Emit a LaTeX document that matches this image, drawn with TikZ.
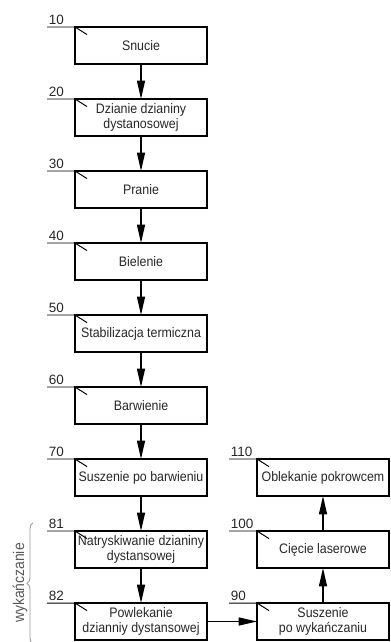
\documentclass[tikz,border=0pt]{standalone}
\usepackage{fontspec}
\setmainfont[FakeStretch=0.9]{Liberation Sans}
\newfontfamily\numfont{Liberation Sans}
\usetikzlibrary{arrows.meta,positioning,decorations.pathreplacing}

\tikzset{
  stepbox/.style={draw, line width=1.1pt, minimum width=3.3cm, minimum height=0.925cm,
    inner sep=0pt, outer sep=0pt, align=center, text=black!85},
  flow/.style={-{Triangle[length=4.6mm,width=2mm]}, line width=1pt},
  leader/.style={line width=0.7pt},
  refno/.style={above right, inner sep=1pt, text=black!85,
    font=\numfont\fontsize{9.6pt}{11pt}\selectfont},
}

\begin{document}
\begin{tikzpicture}[font=\fontsize{9.8pt}{11pt}\selectfont, node distance=0.875cm and 1.25cm]
  \useasboundingbox (0,0) rectangle (9.75,-16.05);

  % main line
  \node[stepbox, anchor=north west] (s10) at (1.875,-0.675) {Snucie};
  \node[stepbox, below=of s10] (s20) {Dzianie dzianiny\\dystanosowej};
  \node[stepbox, below=of s20] (s30) {Pranie};
  \node[stepbox, below=of s30] (s40) {Bielenie};
  \node[stepbox, below=of s40] (s50) {Stabilizacja termiczna};
  \node[stepbox, below=of s50] (s60) {Barwienie};
  \node[stepbox, below=of s60] (s70) {Suszenie po barwieniu};
  \node[stepbox, below=of s70] (s81) {Natryskiwanie dzianiny\\dystansowej};
  \node[stepbox, below=of s81] (s82) {Powlekanie\\dzianniy dystansowej};

  % second column, going up
  \node[stepbox, right=of s82] (s90) {Suszenie\\po wykańczaniu};
  \node[stepbox, above=of s90] (s100) {Cięcie laserowe};
  \node[stepbox, above=of s100] (s110) {Oblekanie pokrowcem};

  \draw[flow] (s10) -- (s20);
  \draw[flow] (s20) -- (s30);
  \draw[flow] (s30) -- (s40);
  \draw[flow] (s40) -- (s50);
  \draw[flow] (s50) -- (s60);
  \draw[flow] (s60) -- (s70);
  \draw[flow] (s70) -- (s81);
  \draw[flow] (s81) -- (s82);
  \draw[flow] (s82) -- (s90);
  \draw[flow] (s90) -- (s100);
  \draw[flow] (s100) -- (s110);

  % reference numbers
  \foreach \n in {10,20,30,40,50,60,70,81,82,90,100,110}
    \draw[leader] (s\n.north west) ++(0.3,-0.19) -- (s\n.north west) -- ++(-0.7,0)
      node[refno] {\n};

  % finishing group
  \coordinate (fin bot) at (0.825,-16.1);
  \coordinate (fin top) at (0.825,-13.07);
  \draw[black!40, line width=0.6pt, decorate, decoration={brace, amplitude=0.15cm}]
    (fin bot) -- (fin top);
  \node[rotate=90, text=black!65, font=\fontsize{11pt}{12pt}\selectfont] (fin)
    at (0.5,-14.575) {wykańczanie};
\end{tikzpicture}
\end{document}
